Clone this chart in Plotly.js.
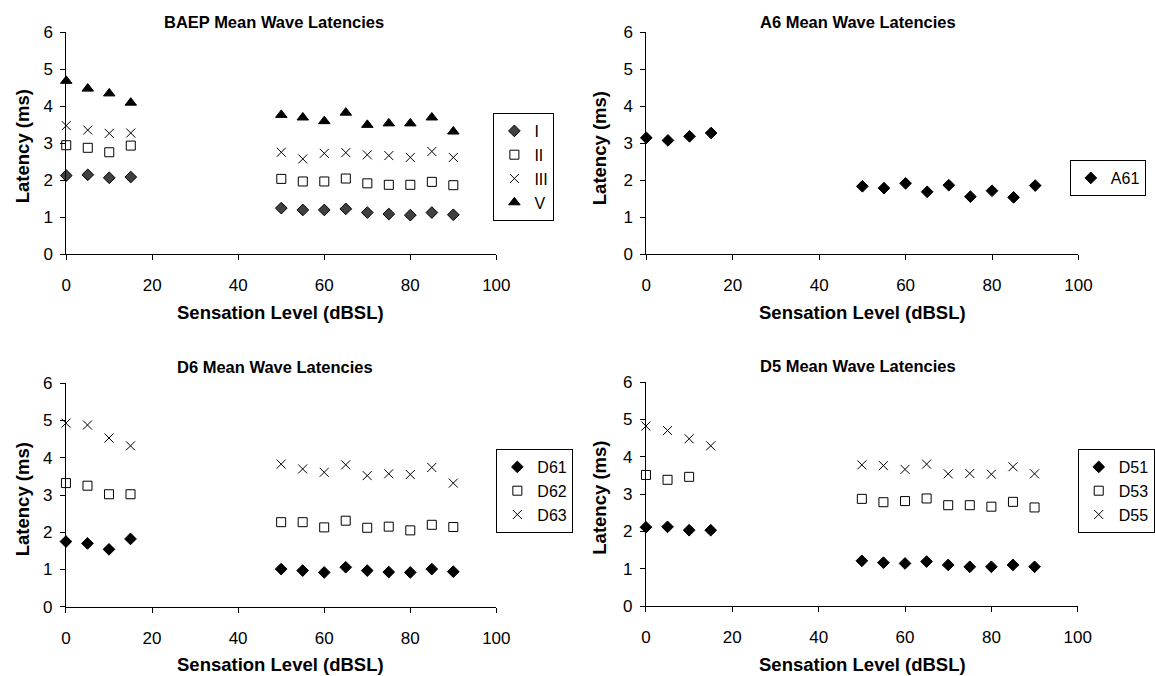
<!DOCTYPE html>
<html>
<head>
<meta charset="utf-8">
<script src="https://cdn.plot.ly/plotly-3.0.1.min.js"></script>
<style>html,body{margin:0;padding:0;background:#fff;}#chart{width:1155px;height:676px;}</style>
</head>
<body>
<div id="chart"></div>
<script>
// ---- Data ----
const levels = [0, 5, 10, 15, 50, 55, 60, 65, 70, 75, 80, 85, 90];

const baepI   = [2.12, 2.14, 2.06, 2.08, 1.24, 1.19, 1.19, 1.22, 1.12, 1.08, 1.05, 1.12, 1.06];
const baepII  = [2.94, 2.87, 2.75, 2.93, 2.03, 1.96, 1.96, 2.04, 1.91, 1.87, 1.87, 1.95, 1.86];
const baepIII = [3.47, 3.35, 3.26, 3.27, 2.75, 2.57, 2.72, 2.74, 2.68, 2.66, 2.61, 2.77, 2.61];
const baepV   = [4.68, 4.47, 4.34, 4.09, 3.76, 3.69, 3.59, 3.82, 3.49, 3.53, 3.53, 3.69, 3.31];

const a61 = [3.14, 3.07, 3.18, 3.27, 1.83, 1.78, 1.91, 1.68, 1.86, 1.55, 1.71, 1.53, 1.85];

const d61 = [1.75, 1.70, 1.54, 1.82, 1.01, 0.97, 0.92, 1.06, 0.97, 0.93, 0.92, 1.01, 0.94];
const d62 = [3.32, 3.25, 3.02, 3.02, 2.27, 2.27, 2.13, 2.31, 2.12, 2.15, 2.05, 2.20, 2.14];
const d63 = [4.93, 4.88, 4.53, 4.32, 3.83, 3.70, 3.61, 3.81, 3.52, 3.57, 3.55, 3.74, 3.32];

const d51 = [2.11, 2.12, 2.03, 2.03, 1.21, 1.16, 1.14, 1.19, 1.10, 1.05, 1.05, 1.10, 1.05];
const d53 = [3.51, 3.38, 3.46, null, 2.87, 2.78, 2.81, 2.88, 2.70, 2.70, 2.66, 2.79, 2.64];
const d55 = [4.82, 4.70, 4.48, 4.29, 3.78, 3.76, 3.66, 3.80, 3.54, 3.55, 3.53, 3.73, 3.54];

const panelTitles = ["BAEP Mean Wave Latencies", "A6 Mean Wave Latencies", "D6 Mean Wave Latencies", "D5 Mean Wave Latencies"];
const xTitle = "Sensation Level (dBSL)";
const yTitle = "Latency (ms)";
const xTicks = [0, 20, 40, 60, 80, 100];
const yTicks = [0, 1, 2, 3, 4, 5, 6];

// ---- Layout helpers ----
const W = 1155, H = 676;
const fx = p => p / W;
const fy = p => 1 - p / H;
const FONT = "Liberation Sans, Arial, Helvetica, sans-serif";
const INK = "#000";

const styles = {
  diamondGray: {symbol: "diamond", size: 9, color: "#404040", line: {color: "#000", width: 1}},
  diamond:     {symbol: "diamond", size: 9, color: "#000", line: {color: "#000", width: 1}},
  square:      {symbol: "square-open", size: 9, color: "#000", line: {color: "#000", width: 1}},
  cross:       {symbol: "x-thin-open", size: 9, color: "#000", line: {color: "#000", width: 1}},
  triangle:    {symbol: "triangle-up", size: 10, color: "#000", line: {color: "#000", width: 1}}
};

function tr(name, y, mk, xa, ya, lg) {
  return {x: levels, y: y, name: name, type: "scatter", mode: "markers",
    marker: mk, xaxis: xa, yaxis: ya, legend: lg, cliponaxis: false, hoverinfo: "x+y+name"};
}

const data = [
  tr("I", baepI, styles.diamondGray, "x", "y", "legend"),
  tr("II", baepII, styles.square, "x", "y", "legend"),
  tr("III", baepIII, styles.cross, "x", "y", "legend"),
  tr("V", baepV, styles.triangle, "x", "y", "legend"),
  tr("A61", a61, styles.diamond, "x2", "y2", "legend2"),
  tr("D61", d61, styles.diamond, "x3", "y3", "legend3"),
  tr("D62", d62, styles.square, "x3", "y3", "legend3"),
  tr("D63", d63, styles.cross, "x3", "y3", "legend3"),
  tr("D51", d51, styles.diamond, "x4", "y4", "legend4"),
  tr("D53", d53, styles.square, "x4", "y4", "legend4"),
  tr("D55", d55, styles.cross, "x4", "y4", "legend4")
];

// plot boxes in pixels: [left, right, top(y=6), bottom(y=0)]
const boxes = [
  [67, 502, 32, 254],
  [653.7, 1090.7, 32, 254],
  [66.7, 502, 383.3, 606.7],
  [653.3, 1090, 382, 606]
];

function xax(b, anchor) {
  return {domain: [fx(b[0]), fx(b[1])], anchor: anchor, range: [0, 100],
    tickmode: "array", tickvals: xTicks, ticks: "outside", ticklen: 5, tickwidth: 1, tickcolor: INK,
    showline: true, linecolor: INK, linewidth: 1, showgrid: false, zeroline: false,
    tickfont: {family: FONT, size: 17, color: INK}, ticklabelstandoff: 11, fixedrange: true};
}
function yax(b, anchor) {
  return {domain: [fy(b[3]), fy(b[2])], anchor: anchor, range: [0, 6],
    tickmode: "array", tickvals: yTicks, ticks: "outside", ticklen: 5, tickwidth: 1, tickcolor: INK,
    showline: true, linecolor: INK, linewidth: 1, showgrid: false, zeroline: false,
    tickfont: {family: FONT, size: 17, color: INK}, ticklabelstandoff: 4, fixedrange: true};
}

function leg(left, top) {
  return {x: fx(left), y: fy(top), xanchor: "left", yanchor: "top", xref: "paper", yref: "paper",
    bgcolor: "#fff", bordercolor: INK, borderwidth: 1, font: {family: FONT, size: 16, color: INK},
    itemwidth: 30, tracegroupgap: 0};
}

const titlePos = [[277.6, 21.5], [867.5, 21.5], [278.5, 366.5], [867.5, 366]];
const xTitlePos = [[284, 312], [872, 312], [284, 664], [872, 664]];
const yTitlePos = [[22.5, 146], [606, 148], [22.5, 499], [606, 497.5]];

const annotations = [];
for (let i = 0; i < 4; i++) {
  annotations.push({text: "<b>" + panelTitles[i] + "</b>", x: fx(titlePos[i][0]), y: fy(titlePos[i][1]),
    xref: "paper", yref: "paper", showarrow: false, xanchor: "center", yanchor: "middle",
    font: {family: FONT, size: 16.5, color: INK}});
  annotations.push({text: "<b>" + xTitle + "</b>", x: fx(xTitlePos[i][0]), y: fy(xTitlePos[i][1]),
    xref: "paper", yref: "paper", showarrow: false, xanchor: "center", yanchor: "middle",
    font: {family: FONT, size: 18.5, color: INK}});
  annotations.push({text: "<b>" + yTitle + "</b>", x: fx(yTitlePos[i][0]), y: fy(yTitlePos[i][1]),
    xref: "paper", yref: "paper", showarrow: false, xanchor: "center", yanchor: "middle", textangle: -90,
    font: {family: FONT, size: 18.5, color: INK}});
}

const layout = {
  width: W, height: H, margin: {l: 0, r: 0, t: 0, b: 0},
  paper_bgcolor: "#fff", plot_bgcolor: "#fff",
  font: {family: FONT, color: INK},
  showlegend: true,
  xaxis: xax(boxes[0], "y"), yaxis: yax(boxes[0], "x"),
  xaxis2: xax(boxes[1], "y2"), yaxis2: yax(boxes[1], "x2"),
  xaxis3: xax(boxes[2], "y3"), yaxis3: yax(boxes[2], "x3"),
  xaxis4: xax(boxes[3], "y4"), yaxis4: yax(boxes[3], "x4"),
  legend: leg(499, 113),
  legend2: leg(1082, 160),
  legend3: leg(502, 449),
  legend4: leg(1090, 449),
  annotations: annotations
};

Plotly.newPlot("chart", data, layout, {staticPlot: true, displayModeBar: false});
</script>
</body>
</html>
